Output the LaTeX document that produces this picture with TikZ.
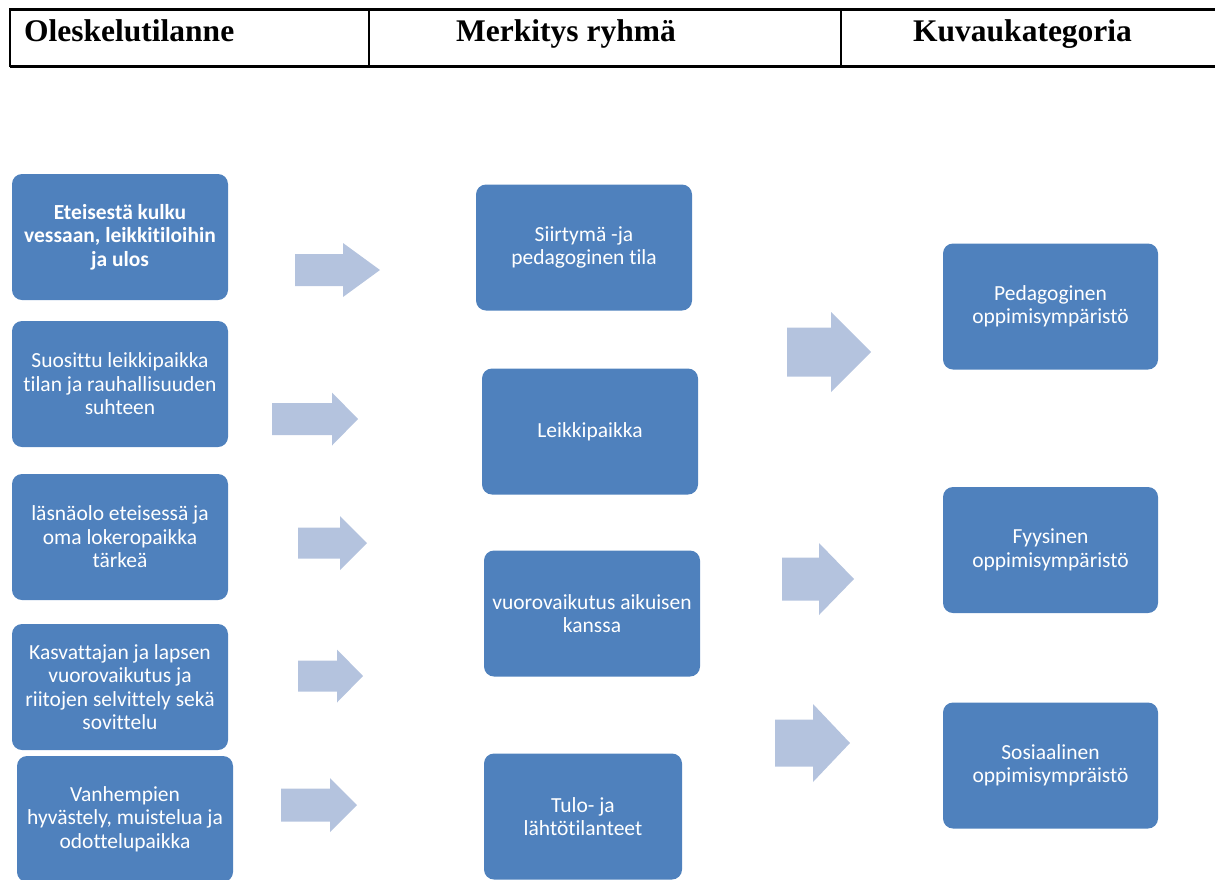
\documentclass[tikz,border=0pt]{standalone}
\usepackage{fontspec}
\setmainfont{Liberation Serif}
\newfontfamily\boxfont[Ligatures=NoCommon]{Carlito}
\definecolor{boxblue}{RGB}{79,129,189}
\definecolor{arrowblue}{RGB}{180,195,222}
\tikzset{
  stagebox/.style={fill=boxblue, draw=none, rounded corners=10pt, text=white,
    minimum width=216pt, minimum height=126pt, inner sep=0pt, align=center,
    font=\boxfont\fontsize{21.5}{23.5}\selectfont},
  headtext/.style={anchor=base west, inner sep=0pt, font=\bfseries\fontsize{31.5}{36}\selectfont},
  blockarrow/.style={fill=arrowblue, draw=none},
  thickrule/.style={line width=3pt},
  thinrule/.style={line width=1.3pt}
}
% #1 tail x, #2 head start x, #3 tip x, #4 centre y, #5 body half height, #6 head half height
\newcommand\blkarrow[6]{%
  \fill[blockarrow] (#1,#4-#5) -- (#2,#4-#5) -- (#2,#4-#6) -- (#3,#4) -- (#2,#4+#6) -- (#2,#4+#5) -- (#1,#4+#5) -- cycle;}
\begin{document}
\begin{tikzpicture}[x=1pt,y=-1pt]
\useasboundingbox (0,0) rectangle (1215,879);
\clip (0,0) rectangle (1215,879);
% header table
\coordinate (tl) at (10,9);
\coordinate (tr) at (1215,9);
\coordinate (bl) at (10,66);
\coordinate (br) at (1215,66);
\draw[thickrule] (tl) -- (tr);
\draw[thickrule] (bl) -- (br);
\draw[thinrule] (10,8) -- (10,67);
\draw[thinrule] (369,9) -- (369,66);
\draw[thinrule] (841,9) -- (841,66);
\node[headtext] (h1) at (24,41) {Oleskelutilanne};
\node[headtext] (h2) at (456,41) {Merkitys ryhmä};
\node[headtext] (h3) at (913,41) {Kuvaukategoria};
% left column
\node[stagebox] (l1) at (120,237) {\bfseries Eteisestä kulku\\\bfseries vessaan, leikkitiloihin\\\bfseries ja ulos};
\node[stagebox] (l2) at (120,384) {Suosittu leikkipaikka\\tilan ja rauhallisuuden\\suhteen};
\node[stagebox] (l3) at (120,537) {läsnäolo eteisessä ja\\oma lokeropaikka\\tärkeä};
\node[stagebox] (l4) at (120,687) {Kasvattajan ja lapsen\\vuorovaikutus ja\\riitojen selvittely sekä\\sovittelu};
\node[stagebox] (l5) at (125,819) {Vanhempien\\hyvästely, muistelua ja\\odottelupaikka};
% middle column
\node[stagebox] (m1) at (584,247.5) {Siirtymä -ja\\pedagoginen tila};
\node[stagebox] (m2) at (590,431.5) {Leikkipaikka};
\node[stagebox] (m3) at (592,613.5) {vuorovaikutus aikuisen\\kanssa};
\node[stagebox, minimum width=198pt] (m4) at (583,816.5) {Tulo- ja\\lähtötilanteet};
% right column
\node[stagebox, minimum width=215pt] (r1) at (1050.5,306.5) {Pedagoginen\\oppimisympäristö};
\node[stagebox, minimum width=215pt] (r2) at (1050.5,550) {Fyysinen\\oppimisympäristö};
\node[stagebox, minimum width=215pt] (r3) at (1050.5,765.5) {Sosiaalinen\\oppimisympräistö};
% arrows left -> middle
\blkarrow{295}{343}{380}{270}{16}{27}
\blkarrow{272}{332}{358}{419}{16}{26.5}
\blkarrow{298}{340}{367}{543}{15.5}{27}
\blkarrow{298}{337}{363}{676}{15.5}{26.5}
\blkarrow{281}{330}{357}{805}{16.5}{27}
% arrows middle -> right
\blkarrow{787}{831}{871}{352}{24.5}{40}
\blkarrow{782}{819}{854}{579}{21.5}{36}
\blkarrow{775}{813}{850}{743}{23.5}{39}
\end{tikzpicture}
\end{document}
